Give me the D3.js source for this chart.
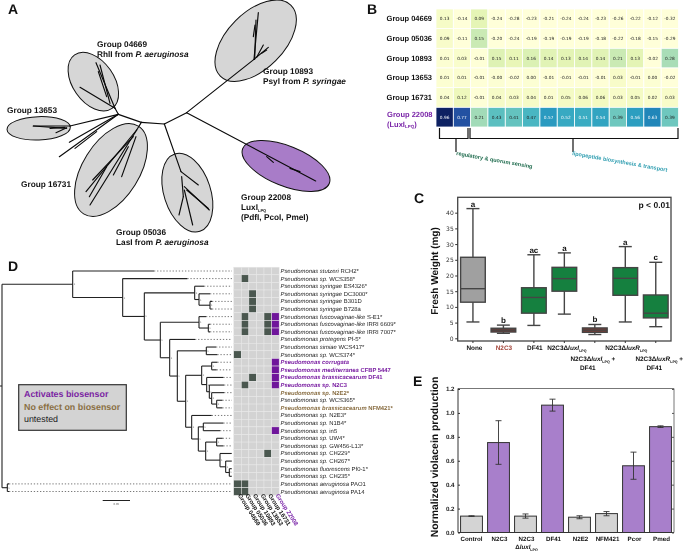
<!DOCTYPE html>
<html><head><meta charset="utf-8">
<script src="https://cdn.jsdelivr.net/npm/d3@7/dist/d3.min.js"></script>
<style>
html,body{margin:0;padding:0;background:#fff}
svg{display:block;filter:blur(0.3px)}
text{font-family:"Liberation Sans",Arial,sans-serif;fill:#111;text-rendering:geometricPrecision}
</style></head><body>
<svg id="fig" width="685" height="551" viewBox="0 0 685 551"></svg>
<script>
// ---------- Panel A: unrooted tree (tree units) ----------
const ellipseGroups = ["10893","04669","13653","16731","05036","22008"];
const ellipseCx = [767,280,116,333,562,858];
const ellipseCy = [122,245,385,510,578,498];
const ellipseMajor = [150,98,95,155,122,140];
const ellipseMinor = [85,62,35,85,70,60];
const ellipseTilt = [-45,55,-2,-58,72,22];
const branches = [
 [560,338,493,372],[493,372,424,367],[424,367,355,343],
 [560,338,762,178],[762,178,775,38],[762,178,805,142],[770,172,790,135],[785,160,800,150],[760,110,765,75],[764,178,768,60],
 [560,338,947,543],[800,470,820,487],[870,505,900,515],
 [493,372,543,515],[543,515,595,555],[545,530,550,590],[550,590,537,645],[553,570,578,675],[553,560,628,630],[560,570,625,625],
 [424,367,410,390],[410,390,270,615],[410,390,258,575],[400,410,278,540],[385,440,340,525],[408,410,365,530],[320,500,268,590],
 [355,343,210,378],[210,378,100,378],[100,378,200,385],[150,385,195,382],[168,398,200,383],
 [355,343,208,427],[355,343,178,470],[290,395,225,445],
 [355,343,345,325],[345,325,240,262],[345,325,288,188],[320,290,295,215],[330,310,300,195]
];
// ---------- Panel B: heat map ----------
const heatRows = ["Group 04669","Group 05036","Group 10893","Group 13653","Group 16731","Group 22008"];
const heat04669 = ["0.13","-0.14","0.09","-0.24","-0.28","-0.23","-0.21","-0.24","-0.24","-0.23","-0.26","-0.22","-0.12","-0.32"];
const heat05036 = ["0.09","-0.11","0.15","-0.20","-0.24","-0.19","-0.19","-0.19","-0.19","-0.18","-0.22","-0.18","-0.15","-0.29"];
const heat10893 = ["0.01","0.03","-0.01","0.15","0.11","0.16","0.14","0.13","0.14","0.14","0.21","0.13","-0.02","0.28"];
const heat13653 = ["0.01","0.01","-0.01","-0.00","-0.02","0.00","-0.01","-0.01","-0.01","-0.01","0.03","-0.01","0.00","-0.02"];
const heat16731 = ["0.04","0.12","-0.01","0.04","0.03","0.04","0.01","0.05","0.06","0.06","0.03","0.05","0.02","0.03"];
const heat22008 = ["0.96","0.77","0.21","0.43","0.41","0.47","0.57","0.52","0.51","0.54","0.39","0.56","0.63","0.39"];
const lowShade = [0.3,0.7,1.4,1,1,1,1,1,1,1,1,1,1,1];
// ---------- Panel C: box plot ----------
const boxNames = ["None","N2C3","DF41","N2C3dI","N2C3dI+DF41","N2C3dR","N2C3dR+DF41"];
const whiskerLow  = [5.2,1.6,4.1,7.7,1.2,5.2,3.7];
const quartile1   = [11.5,2.0,8.0,15.0,1.9,13.7,6.5];
const medians     = [15.8,2.6,13.0,19.0,2.6,19.1,8.0];
const quartile3   = [25.8,3.2,16.1,22.6,3.3,22.5,13.8];
const whiskerHigh = [41.3,4.2,26.6,27.2,4.4,29.2,24.2];
const boxLetters  = ["a","b","ac","a","b","a","c"];
const boxFills = ["#a0a0a0","#7a3b33","#15803f","#15803f","#7a3b33","#15803f","#15803f"];
// ---------- Panel E: bars ----------
const barNames = ["Control","N2C3","N2C3 dI","DF41","N2E2","NFM421","Pcor","Pmed"];
const barValues = [0.137,0.752,0.137,1.065,0.128,0.158,0.558,0.885];
const barLow = [0.134,0.57,0.12,1.015,0.115,0.14,0.445,0.878];
const barHigh = [0.140,0.935,0.155,1.115,0.14,0.175,0.672,0.892];
const barActive = [0,1,0,1,0,0,1,1];
// ---------- Panel D: phylogeny + matrix ----------
const species = [
 ["Pseudomonas stutzeri","RCH2*",""],["Pseudomonas sp.","WCS358*",""],["Pseudomonas syringae","ES4326*",""],
 ["Pseudomonas syringae","DC3000*",""],["Pseudomonas syringae","B301D",""],["Pseudomonas syringae","B728a",""],
 ["Pseudomonas fuscovaginae-like","S-E1*",""],["Pseudomonas fuscovaginae-like","IRRI 6609*",""],["Pseudomonas fuscovaginae-like","IRRI 7007*",""],
 ["Pseudomonas protegens","Pf-5*",""],["Pseudomonas simiae","WCS417*",""],["Pseudomonas sp.","WCS374*",""],
 ["Pseudomonas corrugata","","a"],["Pseudomonas mediterranea","CFBP 5447","a"],["Pseudomonas brassicacearum","DF41","a"],
 ["Pseudomonas sp.","N2C3","a"],["Pseudomonas sp.","N2E2*","n"],["Pseudomonas sp.","WCS365*",""],
 ["Pseudomonas brassicacearum","NFM421*","n"],["Pseudomonas sp.","N2E3*",""],["Pseudomonas sp.","N1B4*",""],
 ["Pseudomonas sp.","in5",""],["Pseudomonas sp.","UW4*",""],["Pseudomonas sp.","GW456-L13*",""],
 ["Pseudomonas sp.","CH229*",""],["Pseudomonas sp.","CH267*",""],["Pseudomonas fluorescens","Pf0-1*",""],
 ["Pseudomonas sp.","CH235*",""],["Pseudomonas aeruginosa","PAO1",""],["Pseudomonas aeruginosa","PA14",""]
];
const matrixGroups = ["Group 04669","Group 05036","Group 10893","Group 13653","Group 16731","Group 22008"];
const presence = [[1,1],[3,2],[4,2],[5,2],[6,1],[6,4],[6,5],[7,1],[7,4],[7,5],[8,1],[8,4],[8,5],[11,0],
 [12,5],[13,5],[14,5],[14,2],[15,5],[15,1],[21,5],[24,4],[28,0],[28,1],[29,0],[29,1]];
// tree: a node is {branch position, children}, a leaf is {tip position, row}
const L = (x,r)=>({x,row:r});
const N = (x,...children)=>({x,children});
const cladeSyringae = N(584, L(612,2), N(597, L(630,3), N(630,L(636,4),L(636,5))));
const cladeFusco = N(597, L(618,6), N(625,L(630,7),L(630,8)));
const cladeSimiae = N(619,L(648,10),L(652,11));
const cladeBrass5 = N(650,L(667,17),L(667,18));
const cladeBrass4 = N(635,L(672,16),cladeBrass5);
const cladeBrass3 = N(628,L(672,15),cladeBrass4);
const cladeBrass2 = N(620,L(670,14),cladeBrass3);
const cladeBrass = N(605, N(635,L(652,12),L(650,13)), cladeBrass2);
const cladeTail3 = N(688,L(695,26),L(695,27));
const cladeTail2 = N(677,L(695,25),cladeTail3);
const cladeTail1 = N(660,L(695,24),cladeTail2);
const cladeMand = N(617, N(650,L(668,22),L(670,23)), cladeTail1);
const cladeJess = N(595, N(610,L(670,20),L(660,21)), cladeMand);
const cladeFluor = N(575, L(635,19), cladeJess);
const cladeM = N(557, cladeBrass, cladeFluor);
const cladeK = N(532, cladeSimiae, cladeM);
const cladeJ = N(509, L(585,9), cladeK);
const cladeG = N(481, cladeFusco, cladeJ);
const cladeC = N(433, cladeSyringae, cladeG);
const cladeB = N(368, L(562,1), cladeC);
const cladeA = N(218, L(462,0), cladeB);
const phylogeny = N(6, cladeA, N(22,L(27,28),L(27,29)));

const svg = d3.select("#fig");
const inner = (sel,parts)=>{ parts.forEach(p=>{
  const t=sel.append("tspan").text(p.t);
  if(p.i) t.attr("font-style","italic");
  if(p.sub) t.attr("font-size",p.sub).attr("dy",1.6);
  if(p.up) t.attr("dy",-p.up);
}); return sel; };
const label=(g,x,y,size,opts={})=>g.append("text").attr("x",x).attr("y",y).attr("font-size",size)
  .attr("font-weight",opts.w||"bold").attr("text-anchor",opts.a||"start").style("fill",opts.c||"#111");
const panelLetters=[["A",8,14],["B",367,14],["C",414,203],["D",8,271],["E",413,386]];
panelLetters.forEach(d=>label(svg,d[1],d[2],14).text(d[0]));

// ---- A ----
(function(){
 const sx=d3.scaleLinear().domain([0,1050]).range([0,350]);
 const sy=d3.scaleLinear().domain([0,750]).range([0,250]);
 const g=svg.append("g");
 g.selectAll("ellipse").data(ellipseGroups).join("ellipse")
  .attr("transform",(d,i)=>`translate(${sx(ellipseCx[i])},${sy(ellipseCy[i])}) rotate(${ellipseTilt[i]})`)
  .attr("rx",(d,i)=>sx(ellipseMajor[i])).attr("ry",(d,i)=>sx(ellipseMinor[i]))
  .attr("fill",d=>d==="22008"?"#a87cc8":"#d6d6d6").attr("stroke","#111").attr("stroke-width",1);
 g.selectAll("line").data(branches).join("line")
  .attr("x1",d=>sx(d[0])).attr("y1",d=>sy(d[1])).attr("x2",d=>sx(d[2])).attr("y2",d=>sy(d[3]))
  .attr("stroke","#0a0a0a").attr("stroke-width",1.15).attr("stroke-linecap","round");
 const s=8.25;
 label(g,97,47,s).text("Group 04669");
 inner(label(g,97,57,s),[{t:"RhlI from "},{t:"P. aeruginosa",i:1}]);
 label(g,263,74,s).text("Group 10893");
 inner(label(g,263,84,s),[{t:"PsyI from "},{t:"P. syringae",i:1}]);
 label(g,7,113,s).text("Group 13653");
 label(g,21,187,s).text("Group 16731");
 label(g,116,235,s).text("Group 05036");
 inner(label(g,116,245,s),[{t:"LasI from "},{t:"P. aeruginosa",i:1}]);
 label(g,241,200,s).text("Group 22008");
 inner(label(g,241,210,s),[{t:"LuxI"},{t:"LPQ",sub:4}]);
 label(g,241,220,s).text("(PdfI, PcoI, PmeI)");
})();

// ---- B ----
(function(){
 const allRows=[heat04669,heat05036,heat10893,heat13653,heat16731,heat22008];
 const cols=d3.range(14);
 const x=d3.scaleBand().domain(cols).range([436,678.5]);
 const y=d3.scaleBand().domain(heatRows).range([9,127]);
 const col=d3.scaleSequential(d3.interpolateYlGnBu).domain([-0.02,0.98]).clamp(true);
 const shade=d=>{const v=+d.v; return v<0.3? v*lowShade[d.ci]:v;};
 const cells=allRows.flatMap((r,ri)=>r.map((v,ci)=>({v,ci,row:heatRows[ri]})));
 const g=svg.append("g");
 g.selectAll("rect").data(cells).join("rect")
  .attr("x",d=>x(d.ci)).attr("y",d=>y(d.row)).attr("width",x.bandwidth()).attr("height",y.bandwidth())
  .attr("fill",d=>col(shade(d))).attr("stroke","#fff").attr("stroke-width",0.8);
 g.selectAll("text.v").data(cells).join("text").attr("class","v")
  .attr("x",d=>x(d.ci)+x.bandwidth()/2).attr("y",d=>y(d.row)+y.bandwidth()/2+1.5)
  .attr("text-anchor","middle").attr("font-size",4.3).style("font-family","'DejaVu Sans'")
  .style("fill",d=>+d.v>=0.5?"#f4f8fb":"#222").text(d=>d.v);
 heatRows.slice(0,5).forEach(r=>label(g,432,y(r)+y.bandwidth()/2+2.5,7.5,{a:"end"}).text(r));
 label(g,432.5,117,7.5,{a:"end",c:"#7a25a8"}).text("Group 22008");
 inner(label(g,387,126.5,7.5,{c:"#7a25a8"}),[{t:"(LuxI"},{t:"LPQ",sub:4.5},{t:")",up:1.6}]);
 const br=g.append("g").attr("fill","none").attr("stroke","#111").attr("stroke-width",1.2);
 const bracket=d3.line();
 br.append("path").attr("d",bracket([[439.5,128],[439.5,138.5],[468,138.5],[468,128]]));
 br.append("path").attr("d",bracket([[456,138.5],[456,152]]));
 br.append("path").attr("d",bracket([[470,128],[470,138.5],[678,138.5],[678,128]]));
 br.append("path").attr("d",bracket([[573,138.5],[573,152]]));
 g.append("text").attr("transform","translate(456,155) rotate(10)").attr("font-size",5.55).attr("font-weight","bold")
  .style("fill","#1d6a4c").text("regulatory & quorum sensing");
 g.append("text").attr("transform","translate(572,155) rotate(10)").attr("font-size",5.55).attr("font-weight","bold")
  .style("fill","#2e9db0").text("lipopeptide biosynthesis & transport");
})();

// ---- C ----
(function(){
 const L0=457.7,R0=671,T0=197.3,B0=341;
 const x=d3.scaleBand().domain(boxNames).range([L0,R0]);
 const y=d3.scaleLinear().domain([-0.86,44.9]).range([B0,T0]);
 const g=svg.append("g");
 const edge="#454545";
 const w=x.bandwidth()*0.81;
 const box=g.selectAll("g.b").data(boxNames).join("g").attr("class","b")
  .attr("transform",d=>`translate(${x(d)+x.bandwidth()/2},0)`);
 box.append("line").attr("y1",(d,i)=>y(whiskerLow[i])).attr("y2",(d,i)=>y(whiskerHigh[i])).attr("stroke",edge).attr("stroke-width",1.4);
 box.append("line").attr("class","cap").attr("x1",-6.5).attr("x2",6.5).attr("y1",(d,i)=>y(whiskerLow[i])).attr("y2",(d,i)=>y(whiskerLow[i])).attr("stroke",edge).attr("stroke-width",1.4);
 box.append("line").attr("x1",-6.5).attr("x2",6.5).attr("y1",(d,i)=>y(whiskerHigh[i])).attr("y2",(d,i)=>y(whiskerHigh[i])).attr("stroke",edge).attr("stroke-width",1.4);
 box.append("rect").attr("x",-w/2).attr("width",w).attr("y",(d,i)=>y(quartile3[i])).attr("height",(d,i)=>y(quartile1[i])-y(quartile3[i]))
  .attr("fill",(d,i)=>boxFills[i]).attr("stroke",edge).attr("stroke-width",1.4);
 box.append("line").attr("x1",-w/2).attr("x2",w/2).attr("y1",(d,i)=>y(medians[i])).attr("y2",(d,i)=>y(medians[i])).attr("stroke",edge).attr("stroke-width",1.4);
 box.append("text").attr("text-anchor","middle").attr("font-size",8).attr("font-weight","bold")
  .attr("x",0).attr("y",(d,i)=>y(whiskerHigh[i])-2).text((d,i)=>boxLetters[i]);
 g.append("rect").attr("x",L0).attr("y",T0).attr("width",R0-L0).attr("height",B0-T0).attr("fill","none").attr("stroke","#444").attr("stroke-width",1.3);
 const ay=g.append("g").attr("transform",`translate(${L0},0)`).call(d3.axisLeft(y).tickValues(d3.range(0,41,5)).tickSize(2.5).tickPadding(1.5));
 ay.select(".domain").remove();
 ay.selectAll("text").attr("font-size",6).style("fill","#333").style("font-family","'DejaVu Sans'");
 ay.selectAll("line").attr("stroke","#333");
 const ax=g.append("g").attr("transform",`translate(0,${B0})`).call(d3.axisBottom(x).tickFormat("").tickSize(2));
 ax.select(".domain").remove(); ax.selectAll("line").attr("stroke","#333");
 const s=6.4, cx=n=>x(n)+x.bandwidth()/2;
 label(g,cx("None")+1.5,350,s,{a:"middle"}).text("None");
 label(g,cx("N2C3")+0.5,350,s,{a:"middle",c:"#a5483d"}).text("N2C3");
 label(g,cx("DF41")+1,350,s,{a:"middle"}).text("DF41");
 inner(label(g,cx("N2C3dI")+2.5,350,s,{a:"middle"}),[{t:"N2C3Δ"},{t:"luxI",i:1},{t:"LPQ",sub:3.6}]);
 inner(label(g,cx("N2C3dI+DF41")-2,361,s,{a:"middle"}),[{t:"N2C3Δ"},{t:"luxI",i:1},{t:"LPQ",sub:3.6},{t:" +",up:1.6}]);
 label(g,cx("N2C3dI+DF41")-7,369.5,s,{a:"middle"}).text("DF41");
 inner(label(g,cx("N2C3dR")+1,350,s,{a:"middle"}),[{t:"N2C3Δ"},{t:"luxR",i:1},{t:"LPQ",sub:3.6}]);
 inner(label(g,cx("N2C3dR+DF41")+3.5,361,s,{a:"middle"}),[{t:"N2C3Δ"},{t:"luxR",i:1},{t:"LPQ",sub:3.6},{t:" +",up:1.6}]);
 label(g,cx("N2C3dR+DF41")-1.5,369.5,s,{a:"middle"}).text("DF41");
 label(g,670,208,8.5,{a:"end"}).text("p < 0.01");
 g.append("text").attr("transform",`translate(438,271) rotate(-90)`).attr("text-anchor","middle")
  .attr("font-size",10).attr("font-weight","bold").text("Fresh Weight (mg)");
})();

// ---- E ----
(function(){
 const L0=458,R0=674,T0=388.5,B0=532.5;
 const x=d3.scaleBand().domain(barNames).range([L0,R0]);
 const y=d3.scaleLinear().domain([0,1.2]).range([B0,389]);
 const g=svg.append("g");
 const w=x.bandwidth()*0.81;
 const cx=n=>x(n)+x.bandwidth()/2;
 g.selectAll("rect.b").data(barNames).join("rect").attr("class","b")
  .attr("x",d=>cx(d)-w/2).attr("width",w).attr("y",(d,i)=>y(barValues[i])).attr("height",(d,i)=>y(0)-y(barValues[i]))
  .attr("fill",(d,i)=>barActive[i]?"#a87fcb":"#d4d4d4").attr("stroke","#333").attr("stroke-width",1);
 const eb=g.selectAll("g.e").data(barNames).join("g").attr("class","e").attr("transform",d=>`translate(${cx(d)},0)`).attr("stroke","#333").attr("stroke-width",0.9);
 eb.append("line").attr("y1",(d,i)=>y(barLow[i])).attr("y2",(d,i)=>y(barHigh[i]));
 eb.append("line").attr("x1",-3).attr("x2",3).attr("y1",(d,i)=>y(barLow[i])).attr("y2",(d,i)=>y(barLow[i]));
 eb.append("line").attr("x1",-3).attr("x2",3).attr("y1",(d,i)=>y(barHigh[i])).attr("y2",(d,i)=>y(barHigh[i]));
 g.append("path").attr("d",d3.line()([[L0,T0],[R0,T0],[R0,B0]])).attr("fill","none").attr("stroke","#777").attr("stroke-width",1);
 g.append("path").attr("d",d3.line()([[L0,T0],[L0,B0],[R0,B0]])).attr("fill","none").attr("stroke","#333").attr("stroke-width",1);
 const ticks=[0,0.2,0.4,0.6,0.8,1.0,1.2];
 const ay=g.append("g").attr("transform",`translate(${L0},0)`).call(d3.axisLeft(y).tickValues(ticks).tickFormat(d3.format(".1f")).tickSize(-2).tickPadding(3.5));
 ay.select(".domain").remove();
 ay.selectAll("text").attr("font-size",6.2).attr("font-weight","bold").style("fill","#222");
 ay.selectAll("line").attr("stroke","#333");
 const ar=g.append("g").attr("transform",`translate(${R0},0)`).call(d3.axisRight(y).tickValues(ticks).tickFormat("").tickSize(-2));
 ar.select(".domain").remove(); ar.selectAll("line").attr("stroke","#555");
 const s=6.2;
 barNames.forEach((n,i)=>{
  if(n==="N2C3 dI"){
   label(g,cx(n)+1,541,s,{a:"middle"}).text("N2C3");
   inner(label(g,cx(n)+1,549,s,{a:"middle"}),[{t:"Δ"},{t:"luxI",i:1},{t:"LPQ",sub:3.6}]);
  } else label(g,cx(n)+(i===0?0:1),541,s,{a:"middle"}).text(n);
 });
 g.append("text").attr("transform",`translate(438,457) rotate(-90)`).attr("text-anchor","middle")
  .attr("font-size",10.4).attr("font-weight","bold").text("Normalized violacein production");
})();

// ---- D ----
(function(){
 const g=svg.append("g");
 const rowY=d3.scaleLinear().domain([0,29]).range([271,491.5]);
 const treeX=d3.scaleLinear().domain([0,720]).range([0,240]);
 const root=d3.hierarchy(phylogeny);
 root.eachAfter(n=>{ n.py=n.children? (n.children[0].py+n.children[n.children.length-1].py)/2 : rowY(n.data.row); n.px=treeX(n.data.x); });
 const tipEnd=232;
 const grid={x0:233.7,cw:7.58};
 const st=g.append("g").attr("fill","none");
 root.leaves().forEach(n=>{
  st.append("line").attr("x1",n.px).attr("x2",tipEnd).attr("y1",n.py).attr("y2",n.py)
   .attr("stroke","#555").attr("stroke-width",0.8).attr("stroke-dasharray","1.3 1.8");
 });
 root.descendants().forEach(n=>{
  if(n.parent){
   st.append("path").attr("d",d3.line()([[n.parent.px,n.py],[n.px,n.py]])).attr("stroke","#222").attr("stroke-width",1.1);
  }
  if(n.children){
   const a=n.children[0].py,b=n.children[n.children.length-1].py;
   st.append("path").attr("d",d3.line()([[n.px,a],[n.px,b]])).attr("stroke","#222").attr("stroke-width",1.1);
   if(n.parent) g.append("text").attr("x",n.px+1).attr("y",n.py+1).attr("font-size",2.6).style("fill","#666").text("1");
  }
 });
 st.append("line").attr("x1",0).attr("x2",treeX(6)).attr("y1",root.py).attr("y2",root.py).attr("stroke","#222").attr("stroke-width",1.1);
 // scale bar
 st.append("line").attr("x1",102.7).attr("x2",130).attr("y1",500.5).attr("y2",500.5).attr("stroke","#222").attr("stroke-width",1);
 g.append("text").attr("x",116.3).attr("y",505).attr("text-anchor","middle").attr("font-size",2.8).style("fill","#555").text("0.05");
 // matrix
 const cells=species.flatMap((d,r)=>d3.range(6).map(c=>({r,c})));
 const h=rowY(1)-rowY(0);
 const key=new Set(presence.map(d=>d[0]+"_"+d[1]));
 g.selectAll("rect.cell").data(cells).join("rect").attr("class","cell")
  .attr("x",d=>grid.x0+d.c*grid.cw).attr("y",d=>rowY(d.r)-h/2).attr("width",grid.cw).attr("height",h)
  .attr("fill",d=>!key.has(d.r+"_"+d.c)?"#d3d3d3":d.c===5?"#6f159b":"#4a574f")
  .attr("stroke","#e9e9e9").attr("stroke-width",0.5);
 // species labels
 species.forEach((d,i)=>{
  const bold=d[2]!=="";
  const colr=d[2]==="a"?"#7a1fa2":d[2]==="n"?"#8a6f44":"#222";
  const t=g.append("text").attr("x",280.5).attr("y",rowY(i)+2).attr("font-size",bold?5.85:5.9)
   .attr("font-weight",bold?"bold":"normal").style("fill",colr);
  t.append("tspan").attr("font-style","italic").text(d[0]+" ");
  t.append("tspan").text(d[1]);
 });
 // column labels
 matrixGroups.forEach((n,i)=>{
  g.append("text").attr("transform",`translate(${grid.x0+4+i*grid.cw},495.5) rotate(57.5)`)
   .attr("font-size",6).attr("font-weight","bold").style("fill",i===5?"#7a25a8":"#111").text(n);
 });
 // legend
 g.append("rect").attr("x",18.7).attr("y",384.7).attr("width",107.6).attr("height",45.6).attr("fill","#d3d3d3").attr("stroke","#333").attr("stroke-width",1.2);
 label(g,24,397,8.9,{c:"#7a1fa2"}).text("Activates biosensor");
 label(g,24,410,8.9,{c:"#8a6f44"}).text("No effect on biosensor");
 label(g,24,422,8.9,{w:"normal",c:"#222"}).text("untested");
})();
</script>
</body></html>
